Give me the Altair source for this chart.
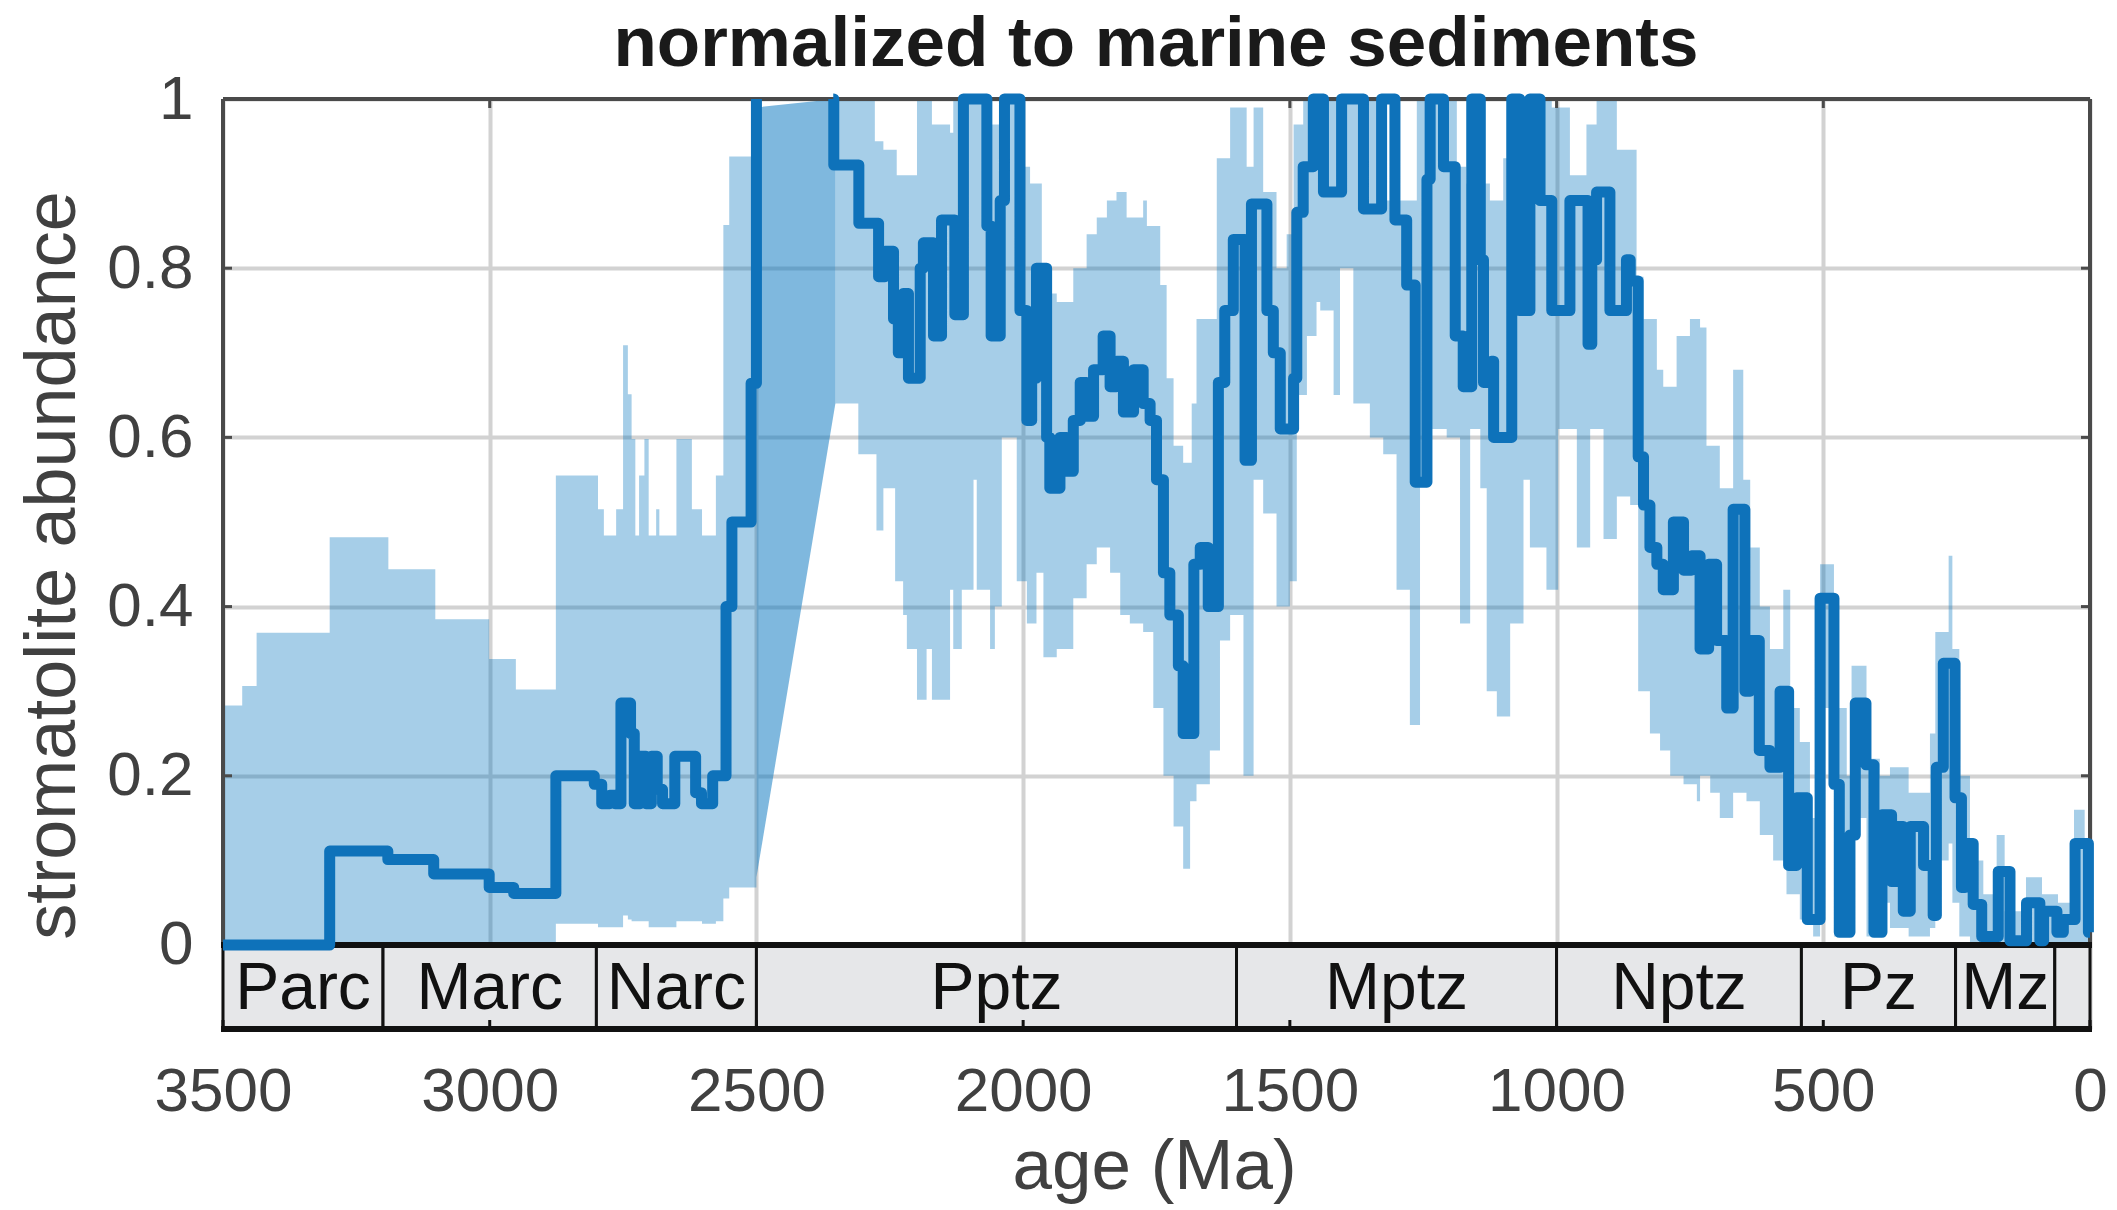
import altair as alt
import pandas as pd

TITLE = "normalized to marine sediments"
X_TITLE = "age (Ma)"
Y_TITLE = "stromatolite abundance"
X_TICKS = [3500, 3000, 2500, 2000, 1500, 1000, 500, 0]
Y_TICKS = [0, 0.2, 0.4, 0.6, 0.8, 1]

# median stromatolite abundance: each value holds from its age toward younger ages
LINE_AGE = [3500, 3300, 3191, 3105, 3001, 2955, 2876, 2804, 2790, 2775,
            2765, 2754, 2736, 2729, 2718, 2707, 2697, 2686, 2676, 2653,
            2614, 2603, 2582, 2557, 2546, 2510, 2500, 2355, 2308, 2271,
            2259, 2243, 2234, 2225, 2215, 2193, 2187, 2168, 2153, 2128,
            2112, 2068, 2060, 2043, 2035, 2006, 1993, 1984, 1975, 1956,
            1950, 1931, 1918, 1906, 1893, 1881, 1868, 1850, 1837, 1825,
            1812, 1793, 1775, 1762, 1750, 1737, 1725, 1709, 1700, 1680,
            1668, 1653, 1634, 1622, 1606, 1584, 1572, 1543, 1531, 1518,
            1493, 1487, 1475, 1456, 1437, 1403, 1362, 1328, 1303, 1281,
            1265, 1243, 1237, 1212, 1190, 1175, 1159, 1143, 1137, 1122,
            1118, 1084, 1069, 1050, 1031, 1009, 975, 941, 934, 925,
            900, 869, 862, 847, 837, 825, 812, 800, 781, 762,
            747, 731, 715, 700, 681, 669, 647, 637, 620, 600,
            581, 565, 550, 530, 506, 480, 470, 450, 440, 420,
            405, 390, 372, 362, 350, 337, 312, 294, 288, 275,
            253, 241, 234, 219, 203, 172, 150, 119, 94, 87,
            62, 50, 28, 3]
LINE_VAL = [0, 0.111, 0.101, 0.084, 0.068, 0.061, 0.200, 0.19, 0.167, 0.177,
            0.167, 0.286, 0.25, 0.167, 0.223, 0.167, 0.223, 0.184, 0.167, 0.223,
            0.18, 0.167, 0.2, 0.4, 0.5, 0.664, 1.0, 0.922, 0.853, 0.79,
            0.82, 0.74, 0.70, 0.77, 0.67, 0.80, 0.83, 0.72, 0.857, 0.745,
            1.0, 0.85, 0.72, 0.88, 1.0, 0.75, 0.62, 0.67, 0.80, 0.60,
            0.54, 0.60, 0.56, 0.62, 0.665, 0.625, 0.68, 0.72, 0.66, 0.69,
            0.63, 0.68, 0.64, 0.62, 0.55, 0.44, 0.39, 0.33, 0.25, 0.45,
            0.47, 0.40, 0.665, 0.75, 0.834, 0.573, 0.876, 0.75, 0.70, 0.61,
            0.67, 0.866, 0.92, 1.0, 0.89, 1.0, 0.87, 1.0, 0.857, 0.78,
            0.547, 0.905, 1.0, 0.92, 0.72, 0.66, 1.0, 0.81, 0.665, 0.69,
            0.60, 1.0, 0.75, 1.0, 0.88, 0.75, 0.88, 0.71, 0.81, 0.89,
            0.75, 0.81, 0.785, 0.577, 0.52, 0.47, 0.45, 0.42, 0.50, 0.443,
            0.46, 0.35, 0.45, 0.36, 0.28, 0.515, 0.30, 0.36, 0.23, 0.21,
            0.30, 0.094, 0.174, 0.03, 0.41, 0.19, 0.015, 0.13, 0.286, 0.213,
            0.015, 0.154, 0.075, 0.14, 0.04, 0.14, 0.094, 0.035, 0.21, 0.333,
            0.174, 0.068, 0.12, 0.048, 0.01, 0.087, 0.005, 0.05, 0.005, 0.04,
            0.015, 0.03, 0.12, 0.015]
LINE_GAP_START = 2500     # no data between these two ages: the curve is broken
LINE_GAP_END = 2355

# uncertainty band, Archean part
BAND1_AGE = [3500, 3464, 3437, 3300, 3190, 3102, 3001, 2951, 2876, 2797,
             2786, 2763, 2750, 2741, 2734, 2727, 2720, 2710, 2702, 2688,
             2682, 2650, 2621, 2602, 2576, 2562, 2551]
BAND1_LO = [0, 0, 0, 0, 0, 0, 0, 0, 0.025, 0.021,
            0.021, 0.021, 0.035, 0.03, 0.028, 0.028, 0.028, 0.028, 0.021, 0.021,
            0.021, 0.028, 0.028, 0.025, 0.028, 0.055, 0.068]
BAND1_HI = [0.283, 0.306, 0.369, 0.482, 0.444, 0.385, 0.338, 0.302, 0.555, 0.515,
            0.484, 0.515, 0.709, 0.651, 0.598, 0.484, 0.555, 0.598, 0.484, 0.515,
            0.484, 0.598, 0.515, 0.484, 0.555, 0.851, 0.932]
BAND1_END = 2500

# band across the data gap near the Archean/Proterozoic boundary
GAP_AGE = [2500, 2352]
GAP_LO = [0.08, 0.64]
GAP_HI = [0.99, 1.0]

# uncertainty band, Proterozoic to present
BAND2_AGE = [2352, 2309, 2278, 2275, 2262, 2240, 2237, 2225, 2218, 2199,
             2181, 2171, 2137, 2131, 2115, 2093, 2087, 2062, 2053, 2043,
             2040, 2012, 2006, 1993, 1987, 1975, 1965, 1962, 1937, 1906,
             1881, 1862, 1843, 1837, 1825, 1818, 1806, 1800, 1775, 1768,
             1756, 1743, 1737, 1731, 1718, 1700, 1687, 1684, 1675, 1650,
             1637, 1631, 1612, 1587, 1581, 1568, 1550, 1525, 1506, 1500,
             1493, 1487, 1475, 1468, 1450, 1443, 1418, 1406, 1381, 1350,
             1325, 1300, 1275, 1262, 1256, 1237, 1206, 1187, 1181, 1169,
             1162, 1143, 1131, 1125, 1112, 1100, 1087, 1069, 1062, 1050,
             1019, 1009, 997, 975, 962, 944, 937, 925, 912, 887,
             862, 850, 847, 837, 825, 812, 806, 800, 787, 775,
             762, 750, 737, 731, 719, 712, 694, 669, 650, 644,
             637, 619, 600, 594, 575, 569, 562, 544, 525, 519,
             506, 480, 456, 447, 419, 394, 375, 340, 300, 290,
             265, 258, 245, 225, 200, 175, 160, 120, 90, 60,
             30, 10]
BAND2_LO = [0.64, 0.58, 0.58, 0.49, 0.54, 0.43, 0.43, 0.39, 0.35, 0.29,
            0.35, 0.29, 0.42, 0.35, 0.42, 0.55, 0.42, 0.35, 0.40, 0.40,
            0.60, 0.43, 0.43, 0.38, 0.38, 0.44, 0.44, 0.34, 0.35, 0.41,
            0.45, 0.47, 0.47, 0.44, 0.44, 0.39, 0.39, 0.38, 0.37, 0.37,
            0.28, 0.28, 0.20, 0.20, 0.14, 0.09, 0.17, 0.17, 0.19, 0.23,
            0.23, 0.36, 0.39, 0.20, 0.20, 0.55, 0.51, 0.40, 0.40, 0.43,
            0.43, 0.65, 0.65, 0.72, 0.76, 0.75, 0.65, 0.80, 0.64, 0.60,
            0.58, 0.42, 0.26, 0.26, 0.55, 0.61, 0.60, 0.60, 0.38, 0.38,
            0.61, 0.54, 0.30, 0.30, 0.27, 0.27, 0.38, 0.38, 0.55, 0.47,
            0.42, 0.42, 0.61, 0.61, 0.47, 0.47, 0.61, 0.61, 0.48, 0.53,
            0.52, 0.52, 0.30, 0.30, 0.25, 0.25, 0.23, 0.23, 0.20, 0.20,
            0.19, 0.19, 0.17, 0.20, 0.20, 0.18, 0.15, 0.18, 0.18, 0.17,
            0.17, 0.13, 0.13, 0.10, 0.10, 0.06, 0.06, 0.03, 0.03, 0.01,
            0.28, 0.01, 0.01, 0.15, 0.01, 0.05, 0.02, 0.01, 0.02, 0.10,
            0.12, 0.05, 0.01, 0.0, 0.0, 0.0, 0.0, 0.0, 0.0, 0.0,
            0.0, 0.0]
BAND2_HI = [1.0, 1.0, 0.95, 0.95, 0.94, 0.94, 0.91, 0.91, 0.91, 1.0,
            1.0, 0.97, 0.96, 1.0, 1.0, 1.0, 1.0, 0.97, 0.97, 1.0,
            1.0, 1.0, 0.92, 0.92, 0.90, 0.90, 0.77, 0.77, 0.76, 0.80,
            0.84, 0.86, 0.88, 0.88, 0.89, 0.89, 0.86, 0.86, 0.88, 0.85,
            0.85, 0.78, 0.78, 0.67, 0.59, 0.57, 0.57, 0.64, 0.74, 0.74,
            0.93, 0.93, 0.99, 0.99, 0.92, 0.99, 0.89, 0.80, 0.84, 0.84,
            0.97, 0.97, 1.0, 1.0, 0.95, 1.0, 1.0, 1.0, 1.0, 1.0,
            0.88, 0.88, 0.88, 1.0, 1.0, 1.0, 1.0, 0.92, 0.92, 0.90,
            0.90, 0.90, 0.90, 0.88, 0.88, 0.93, 1.0, 0.98, 0.98, 1.0,
            1.0, 0.99, 0.99, 0.91, 0.91, 0.97, 0.97, 1.0, 1.0, 0.94,
            0.94, 0.79, 0.79, 0.74, 0.74, 0.68, 0.68, 0.66, 0.66, 0.72,
            0.72, 0.74, 0.74, 0.73, 0.59, 0.59, 0.54, 0.68, 0.55, 0.55,
            0.47, 0.40, 0.35, 0.35, 0.42, 0.42, 0.28, 0.24, 0.15, 0.15,
            0.45, 0.28, 0.20, 0.33, 0.22, 0.20, 0.21, 0.18, 0.25, 0.37,
            0.46, 0.35, 0.20, 0.10, 0.06, 0.13, 0.04, 0.08, 0.06, 0.05,
            0.16, 0.12]
BAND2_END = 0

# geologic time scale
ERA_NAMES = ["Parc", "Marc", "Narc", "Pptz", "Mptz", "Nptz", "Pz", "Mz", ""]
ERA_START = [3500, 3200, 2800, 2500, 1600, 1000, 541, 252, 66]
ERA_END = [3200, 2800, 2500, 1600, 1000, 541, 252, 66, 0]

assert len(LINE_AGE) == len(LINE_VAL)
assert len(BAND1_AGE) == len(BAND1_LO) == len(BAND1_HI)
assert len(BAND2_AGE) == len(BAND2_LO) == len(BAND2_HI)

# ---------------------------------------------------------------- tables
ia = LINE_AGE.index(LINE_GAP_START)
ib = LINE_AGE.index(LINE_GAP_END)
line_df = pd.concat([
    pd.DataFrame({"age": LINE_AGE[:ia + 1], "value": LINE_VAL[:ia + 1], "seg": "a"}),
    pd.DataFrame({"age": [LINE_GAP_END + 1] + LINE_AGE[ib:] + [0],
                  "value": [LINE_VAL[ia]] + LINE_VAL[ib:] + [LINE_VAL[-1]], "seg": "b"}),
], ignore_index=True)
band_df = pd.concat([
    pd.DataFrame({"age": BAND1_AGE + [BAND1_END], "lo": BAND1_LO + [BAND1_LO[-1]],
                  "hi": BAND1_HI + [BAND1_HI[-1]], "seg": "archean"}),
    pd.DataFrame({"age": BAND2_AGE + [BAND2_END], "lo": BAND2_LO + [BAND2_LO[-1]],
                  "hi": BAND2_HI + [BAND2_HI[-1]], "seg": "proterozoic"}),
], ignore_index=True)
gap_df = pd.DataFrame({"age": GAP_AGE, "lo": GAP_LO, "hi": GAP_HI})
era_df = pd.DataFrame({"name": ERA_NAMES, "start": ERA_START, "end": ERA_END})
one_df = pd.DataFrame({"title": [TITLE]})
xt_df = pd.DataFrame({"t": X_TICKS})
yt_df = pd.DataFrame({"t": Y_TICKS})

# ---------------------------------------------------------------- layout
W, H = 1867, 930          # plot incl. time-scale strip
BAR_TOP, BAR_BOT = 846, 930
FONT = "Liberation Sans"
GRAY = "#404040"
BLUE = "#0072BD"
FRAME = "#4A4A4A"
TICK = 9

x_scale = alt.Scale(domain=[0, 3500], reverse=True, nice=False, zero=False)
y_scale = alt.Scale(domain=[-0.0993, 1], nice=False, zero=False)

x_axis = alt.Axis(values=X_TICKS, format="d", labelFlush=False, labelOverlap=False,
                  labelFont=FONT, labelFontSize=62, labelColor=GRAY, labelPadding=32,
                  ticks=False, domain=False, grid=True, gridColor="#D2D2D2", gridWidth=4,
                  title=X_TITLE, titleFont=FONT, titleFontSize=71, titleFontWeight="normal",
                  titleColor=GRAY, titleX=931, titleY=159, titleBaseline="alphabetic",
                  titleAlign="center")
y_axis = alt.Axis(values=Y_TICKS, format="~g", labelFont=FONT, labelFontSize=62,
                  labelColor=GRAY, labelPadding=30, ticks=False, domain=False,
                  grid=True, gridColor="#D2D2D2", gridWidth=4,
                  title=Y_TITLE, titleFont=FONT, titleFontSize=72, titleFontWeight="normal",
                  titleColor=GRAY, titleX=-149, titleY=466, titleAngle=270,
                  titleBaseline="alphabetic", titleAlign="center")

band = alt.Chart(band_df).mark_area(interpolate="step-after", color=BLUE, opacity=0.35).encode(
    x=alt.X("age:Q", scale=x_scale, axis=x_axis),
    y=alt.Y("lo:Q", scale=y_scale, axis=y_axis),
    y2="hi:Q",
    detail="seg:N",
)
gap = alt.Chart(gap_df).mark_area(interpolate="linear", color=BLUE, opacity=0.5).encode(
    x=alt.X("age:Q", scale=x_scale, axis=x_axis),
    y=alt.Y("lo:Q", scale=y_scale, axis=y_axis),
    y2="hi:Q",
)
eras = alt.Chart(era_df).mark_rect(fill="#E6E7E9", stroke="#111111", strokeWidth=3).encode(
    x=alt.X("start:Q", scale=x_scale, axis=x_axis),
    x2="end:Q",
    y=alt.value(BAR_TOP),
    y2=alt.value(BAR_BOT),
)
era_text = alt.Chart(era_df).transform_calculate(
    mid="(datum.start + datum.end) / 2"
).mark_text(font=FONT, fontSize=66, color="#111111",
            baseline="middle", align="center").encode(
    x=alt.X("mid:Q", scale=x_scale, axis=x_axis),
    y=alt.value(890),
    text="name:N",
)
# inward tick marks on the frame
xt_top = alt.Chart(xt_df).mark_rule(color=FRAME, strokeWidth=3).encode(
    x=alt.X("t:Q", scale=x_scale, axis=x_axis), y=alt.value(0), y2=alt.value(TICK))
xt_bot = alt.Chart(xt_df).mark_rule(color="#111111", strokeWidth=3).encode(
    x=alt.X("t:Q", scale=x_scale, axis=x_axis), y=alt.value(BAR_BOT - TICK), y2=alt.value(BAR_BOT))
yt_left = alt.Chart(yt_df).mark_rule(color=FRAME, strokeWidth=3).encode(
    y=alt.Y("t:Q", scale=y_scale, axis=y_axis), x=alt.value(0), x2=alt.value(TICK))
yt_right = alt.Chart(yt_df).mark_rule(color=FRAME, strokeWidth=3).encode(
    y=alt.Y("t:Q", scale=y_scale, axis=y_axis), x=alt.value(W - TICK), x2=alt.value(W))
# frame of the plot (top, left, right) and the thick edges of the time-scale strip
frame_top = alt.Chart(one_df).mark_rule(color=FRAME, strokeWidth=4).encode(
    x=alt.value(0), x2=alt.value(W), y=alt.value(0))
frame_left = alt.Chart(one_df).mark_rule(color=FRAME, strokeWidth=4).encode(
    x=alt.value(0), y=alt.value(0), y2=alt.value(BAR_TOP))
frame_right = alt.Chart(one_df).mark_rule(color=FRAME, strokeWidth=4).encode(
    x=alt.value(W), y=alt.value(0), y2=alt.value(BAR_TOP))
bar_top = alt.Chart(one_df).mark_rule(color="#111111", strokeWidth=6).encode(
    x=alt.value(-2), x2=alt.value(W + 2), y=alt.value(BAR_TOP))
bar_bot = alt.Chart(one_df).mark_rule(color="#111111", strokeWidth=6).encode(
    x=alt.value(-2), x2=alt.value(W + 2), y=alt.value(BAR_BOT))

line = alt.Chart(line_df).mark_line(interpolate="step-after", color="#0E72BA",
                                    strokeWidth=11, strokeJoin="round").encode(
    x=alt.X("age:Q", scale=x_scale, axis=x_axis),
    y=alt.Y("value:Q", scale=y_scale, axis=y_axis),
    detail="seg:N",
)

title = alt.Chart(one_df).mark_text(font=FONT, fontSize=71, fontWeight="bold", color="#1a1a1a",
                                    baseline="alphabetic", align="center").encode(
    x=alt.value(933), y=alt.value(-33), text="title:N")

chart = alt.layer(band, gap, eras, era_text, xt_top, xt_bot, yt_left, yt_right,
                  frame_top, frame_left, frame_right, bar_top, bar_bot, line, title).properties(
    width=W, height=H,
    autosize=alt.AutoSizeParams(type="none"),
    padding={"left": 223, "top": 99, "right": 27, "bottom": 181},
).configure_view(stroke=None).configure(background="white")

chart.save("out.html", embed_options={"renderer": "svg", "actions": False})
